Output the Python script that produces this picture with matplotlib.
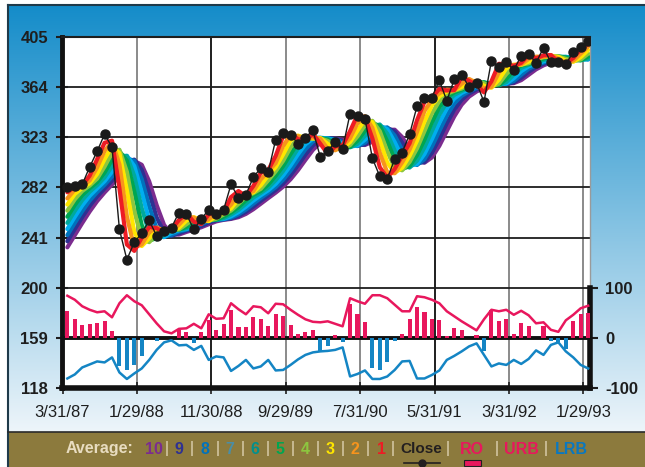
import numpy as np
import matplotlib
matplotlib.use('Agg')
import matplotlib.pyplot as plt
from matplotlib.patches import Rectangle

# monthly closes, 3/87 .. 1/93
close = [282, 283, 284.5, 298.7, 311.5, 325.5, 315, 247.6, 223, 237.2,
         244.5, 255, 242.4, 246.7, 249.2, 261.5, 260.1, 247.6, 256.3, 263.7,
         259.9, 263.7, 284.5, 273.6, 276, 290.4, 297.8, 294.5, 321.1, 326.9,
         325.2, 317.8, 322.8, 328.7, 306.8, 311.8, 319.2, 313.7, 342.4, 340.2,
         338.3, 305.8, 291, 289.1, 305.2, 310.5, 325.5, 348.4, 355.5, 355.5,
         369.7, 352.8, 370.3, 374.1, 364.2, 367.5, 351.9, 385.6, 380.6, 384.7,
         377.9, 389.7, 391.1, 383.9, 396.2, 384.3, 384.3, 382.6, 393, 397, 401.7]

# value of each rainbow average (1..10) at the first month
band_start = [278, 273, 268, 263, 258, 253, 248, 243, 238, 233]

ro = [53, 38, 26, 28, 30, 34, 14, -56, -64, -54,
      -36, 0, -6, 0, 0, 16, 11, -11, 11, 35,
      15, 27, 56, 21, 21, 41, 38, 23, 48, 43,
      26, 8, 11, 16, -27, -17, 5, -9, 68, 48,
      32, -61, -64, -49, -7, 8, 38, 61, 51, 37,
      36, 4, 19, 16, 0, 6, -27, 55, 34, 38,
      8, 30, 24, 0, 24, -7, -9, -23, 34, 47, 49]

urb = [84, 76, 63, 56, 51, 53, 41, 69, 85, 73,
       65, 47, 29, 13, 9, 18, 19, 28, 19, 47,
       38, 39, 69, 57, 47, 63, 61, 49, 68, 67,
       56, 46, 37, 32, 31, 33, 28, 23, 79, 73,
       68, 85, 85, 79, 66, 53, 53, 83, 81, 76,
       69, 53, 43, 33, 24, 15, 37, 56, 53, 56,
       46, 54, 45, 29, 31, 16, 12, 35, 46, 59, 64]

lrb = [-81, -73, -59, -53, -47, -49, -39, -69, -82, -71,
       -61, -44, -24, -9, -5, -15, -14, -24, -16, -44,
       -37, -39, -66, -56, -44, -61, -57, -44, -65, -64,
       -54, -43, -34, -29, -27, -26, -24, -19, -77, -72,
       -65, -82, -82, -77, -64, -47, -46, -81, -81, -74,
       -65, -44, -36, -27, -17, -11, -34, -57, -51, -54,
       -44, -52, -42, -25, -34, -14, -9, -27, -39, -54, -61]

date_labels = ['3/31/87', '1/29/88', '11/30/88', '9/29/89',
               '7/31/90', '5/31/91', '3/31/92', '1/29/93']
price_ticks = [118, 159, 200, 241, 282, 323, 364, 405]
osc_ticks = [-100, 0, 100]

rainbow_colors = ['#ed1c24', '#f7941d', '#ffe600', '#8dc63f', '#00a651',
                  '#00a99d', '#00aeef', '#0072bc', '#2e3192', '#7b2c8f']
legend_colors = ['#7b2c8f', '#2e3192', '#0072bc', '#4a8ea6', '#00908f',
                 '#00a651', '#8dc63f', '#ffe600', '#f7941d', '#ed1c24']
PINK = '#e8175d'
BLUE = '#1485c4'

plt.rcParams['font.family'] = ['Liberation Sans', 'DejaVu Sans']

# rainbow: each average is a 2-period average of the one before
n = len(close)
x = np.arange(n)
bands = []
prev = np.array(close, dtype=float)
for k in range(10):
    cur = np.empty(n)
    cur[0] = band_start[k]
    cur[1:] = (prev[1:] + prev[:-1]) / 2
    bands.append(cur)
    prev = cur

fig = plt.figure(figsize=(6.45, 4.67), dpi=100)
fig.patch.set_facecolor('white')

# background: gradient panel + legend strip
bg = fig.add_axes([0, 0, 1, 1], zorder=-10)
bg.set_xlim(0, 645)
bg.set_ylim(467, 0)
bg.axis('off')
top_c = np.array([0.08, 0.55, 0.79])
bot_c = np.array([0.93, 0.96, 0.98])
t = np.linspace(0, 1, 256)[:, None]
grad = top_c * (1 - t) + bot_c * t
bg.imshow(grad[:, None, :].repeat(2, axis=1), extent=(8, 645, 432, 5),
          aspect='auto', interpolation='bilinear')
bg.add_patch(Rectangle((8, 432), 637, 35, facecolor='#8c7a3d', edgecolor='none'))
bg.plot([8, 645], [5, 5], color='#1f3a4a', lw=1.5)
bg.plot([8, 8], [5, 467], color='#1f3a4a', lw=1.5)
bg.plot([8, 645], [431.5, 431.5], color='#2a2a2a', lw=1.2)

# legend strip
ty = 449
fs = 11.5
bg.text(66, ty, 'Average:', color='#e8dcc0', fontsize=fs, fontweight='bold',
        ha='left', va='center')
num_x = [154, 179, 205, 230, 255, 280, 305, 330, 355, 381]
sep_x = [167, 192, 218, 243, 268, 293, 318, 343, 368, 393, 448, 497, 546]
for i, (nx, col) in enumerate(zip(num_x, legend_colors)):
    bg.text(nx, ty, str(10 - i), color=col, fontsize=fs, fontweight='bold',
            ha='center', va='center')
for sx in sep_x:
    bg.text(sx, ty, '|', color='#e8dcc0', fontsize=fs, ha='center', va='center')
bg.text(421, ty, 'Close', color='#231f20', fontsize=11, fontweight='bold',
        ha='center', va='center')
bg.plot([404, 440], [463, 463], color='#231f20', lw=1.2)
bg.plot([422], [463], 'o', color='#231f20', ms=5)
bg.text(472, ty, 'RO', color=PINK, fontsize=fs, fontweight='bold',
        ha='center', va='center')
bg.add_patch(Rectangle((464, 459.5), 17, 6, facecolor=PINK, edgecolor='#231f20', lw=0.8))
bg.text(521, ty, 'URB', color=PINK, fontsize=fs, fontweight='bold',
        ha='center', va='center')
bg.text(571, ty, 'LRB', color='#0a78c0', fontsize=fs, fontweight='bold',
        ha='center', va='center')

# main chart
ax = fig.add_axes([62 / 645, 1 - 388 / 467, 528 / 645, 351 / 467])
ax.set_facecolor('white')
ax.set_xlim(-0.72, 70.25)
ax.set_ylim(118, 405)

tick_pos = np.arange(len(date_labels)) * 10 - 0.65
grid_cols = ['#8a8a8a', '#1e1e1e', '#8a8a8a', '#8a8a8a', '#1e1e1e', '#8a8a8a', '#8a8a8a']
for tp, gc in zip(tick_pos[1:], grid_cols):
    ax.axvline(tp, color=gc, lw=1.4, zorder=1)
for yv in price_ticks[2:-1]:
    ax.axhline(yv, color='#1e1e1e', lw=1.3, zorder=1)
ax.axhline(159, color='#111111', lw=2.8, zorder=6)

for k in range(9, -1, -1):
    ax.plot(x, bands[k], color=rainbow_colors[k], lw=3.0, zorder=3, solid_capstyle='round')
ax.plot(x, close, color='#1a1a1a', lw=1.0, zorder=4)
ax.plot(x, close, 'o', color='#1a1a1a', ms=6.5, zorder=5)

ax.set_xticks(tick_pos)
ax.set_xticklabels(date_labels, fontsize=12)
ax.set_yticks(price_ticks)
ax.set_yticklabels([str(v) for v in price_ticks], fontsize=12, fontweight='bold')
ax.tick_params(axis='x', direction='inout', length=8, width=1.2, pad=8, colors='#1e1e1e')
ax.tick_params(axis='y', direction='inout', length=8, width=1.5, pad=6, colors='#1e1e1e')
ax.spines['left'].set_linewidth(3.5)
ax.spines['left'].set_color('#111111')
ax.spines['bottom'].set_linewidth(4)
ax.spines['bottom'].set_color('#111111')
ax.spines['top'].set_linewidth(1.5)
ax.spines['top'].set_color('#1e1e1e')
ax.spines['right'].set_linewidth(1.0)
ax.spines['right'].set_color('#9a9a9a')

# oscillator on the right scale
ax2 = ax.twinx()
ax2.set_ylim(-100, 600)
bar_cols = [PINK if v > 0 else BLUE for v in ro]
ax2.bar(x, ro, width=0.55, color=bar_cols, zorder=3)
ax2.plot(x, urb, color=PINK, lw=1.8, zorder=4)
ax2.plot(x, lrb, color=BLUE, lw=1.8, zorder=4)
ax2.set_yticks(osc_ticks)
ax2.set_yticklabels([str(v) for v in osc_ticks], fontsize=12, fontweight='bold')
ax2.tick_params(axis='y', direction='out', length=6, width=1.5, pad=5, colors='#1e1e1e')
for s in ['left', 'top', 'bottom']:
    ax2.spines[s].set_visible(False)
ax2.spines['right'].set_bounds(-100, 100)
ax2.spines['right'].set_linewidth(4)
ax2.spines['right'].set_color('#111111')

fig.savefig('out.png', dpi=100)
